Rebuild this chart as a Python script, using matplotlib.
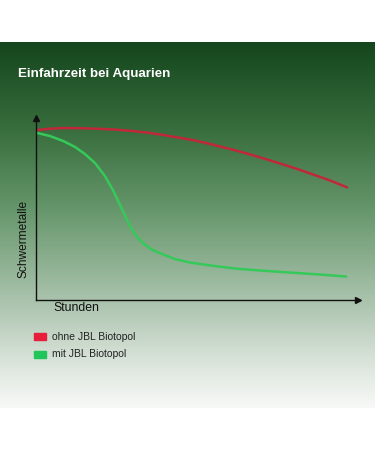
import numpy as np
import matplotlib
matplotlib.use("Agg")
import matplotlib.pyplot as plt
from matplotlib.colors import LinearSegmentedColormap

plt.rcParams['font.family'] = ['Liberation Sans', 'DejaVu Sans']

title = "Einfahrzeit bei Aquarien"
x_label = "Stunden"
y_label = "Schwermetalle"
series_names = ["ohne JBL Biotopol", "mit JBL Biotopol"]

# hours (relative) / heavy metal level (relative)
hours_ohne = [0.3, 4.3, 8.4, 13.7, 18.9, 23.9, 29.2, 34.5, 39.4, 44.7,
              50.0, 55.0, 60.2, 65.5, 70.5, 75.8, 81.1, 86.0, 91.3, 96.6]
metal_ohne = [93.4, 94.1, 94.5, 94.4, 94.1, 93.7, 93.0, 92.0, 90.7, 89.1,
              87.4, 85.3, 83.0, 80.5, 77.9, 75.0, 72.0, 69.0, 65.7, 61.9]

hours_mit = [0.3, 4.3, 8.4, 12.1, 15.2, 18.3, 21.4, 23.9, 26.1, 28.0, 29.5, 31.4,
             33.5, 36.0, 39.1, 43.2, 47.8, 54.0, 61.8, 69.6, 78.9, 88.2, 96.3]
metal_mit = [91.8, 90.1, 87.4, 84.1, 80.2, 75.3, 68.1, 60.4, 52.2, 45.1, 39.6, 34.6,
             30.8, 27.7, 25.3, 22.5, 20.6, 19.0, 17.3, 16.2, 15.1, 14.0, 12.9]

colors = ["#c0283a", "#35c95a"]
legend_colors = ["#e61e3c", "#22c55a"]

fig = plt.figure(figsize=(3.75, 4.5), dpi=100)
fig.patch.set_facecolor("white")

# background gradient band
bg = fig.add_axes([0, (450 - 408) / 450, 1, (408 - 42) / 450])
bg.set_axis_off()
grad = LinearSegmentedColormap.from_list("bg", [
    (0.0, (0.08, 0.27, 0.11)),
    (0.24, (0.22, 0.43, 0.24)),
    (0.46, (0.40, 0.59, 0.42)),
    (0.73, (0.69, 0.78, 0.70)),
    (0.90, (0.88, 0.91, 0.88)),
    (1.0, (0.97, 0.975, 0.97)),
])
bg.imshow(np.linspace(0, 1, 256).reshape(-1, 1), aspect="auto", cmap=grad,
          extent=[0, 1, 0, 1], origin="upper")

# plot area: x 36..358 px, y 118..300 px
ax = fig.add_axes([36 / 375, (450 - 300) / 450, (358 - 36) / 375, (300 - 118) / 450])
ax.patch.set_alpha(0)
ax.plot(hours_ohne, metal_ohne, color=colors[0], lw=1.8, solid_capstyle="round",
        solid_joinstyle="round")
ax.plot(hours_mit, metal_mit, color=colors[1], lw=1.8, solid_capstyle="round",
        solid_joinstyle="round")
ax.set_xlim(0, 100)
ax.set_ylim(0, 100)
for s in ["top", "right"]:
    ax.spines[s].set_visible(False)
for s in ["left", "bottom"]:
    ax.spines[s].set_color("#111111")
    ax.spines[s].set_linewidth(1.0)
ax.set_xticks([])
ax.set_yticks([])
ax.plot(1, 0, ">", color="#111111", ms=4, transform=ax.transAxes, clip_on=False)
ax.plot(0, 1, "^", color="#111111", ms=4, transform=ax.transAxes, clip_on=False)

fig.text(18 / 375, 1 - 74 / 450, title, color="white", fontsize=9.6,
         fontweight="bold", va="center", ha="left")
fig.text(24 / 375, 1 - 239 / 450, y_label, color="#111111", fontsize=8.6,
         rotation=90, va="center", ha="center")
fig.text(53 / 375, 1 - 308 / 450, x_label, color="#111111", fontsize=8.8,
         va="center", ha="left")

for i, (name, c) in enumerate(zip(series_names, legend_colors)):
    yc = 1 - (336.7 + i * 17.6) / 450
    fig.patches.append(plt.Rectangle((34 / 375, yc - 3.5 / 450), 12 / 375, 7 / 450,
                                     transform=fig.transFigure, color=c, figure=fig))
    fig.text(52 / 375, yc, name, color="#222222", fontsize=7.5, va="center", ha="left")

fig.savefig("out.png", dpi=100)
